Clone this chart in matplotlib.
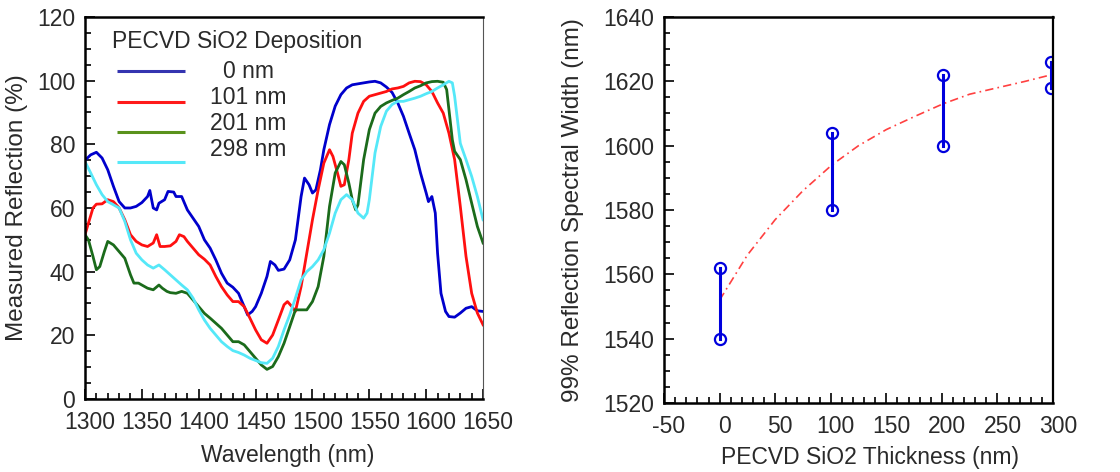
import matplotlib
matplotlib.use("Agg")
import matplotlib.pyplot as plt
import matplotlib.transforms as mtransforms
from matplotlib.ticker import MultipleLocator

plt.rcParams['font.family'] = ['Liberation Sans', 'DejaVu Sans']

# ---------------- data: left panel (measured reflection) ----------------
wl_0 = [1300, 1305, 1310, 1315, 1320, 1325, 1330, 1335, 1340, 1345, 1350, 1355, 1357, 1360, 1363,
        1365, 1370, 1373, 1378, 1380, 1385, 1390, 1395, 1400, 1405, 1410, 1415, 1420, 1425, 1430,
        1435, 1440, 1443, 1447, 1450, 1455, 1460, 1463, 1467, 1470, 1475, 1480, 1485, 1490, 1493,
        1497, 1500, 1503, 1507, 1510, 1515, 1520, 1525, 1530, 1535, 1540, 1545, 1550, 1555, 1560,
        1565, 1570, 1575, 1580, 1585, 1590, 1595, 1600, 1602, 1605, 1608, 1610, 1613, 1617, 1620,
        1625, 1630, 1635, 1640, 1645, 1650]
r_0 = [75, 76.7, 77.5, 75.7, 72, 66.8, 62, 60, 60, 60.5, 61.7, 63.6, 65.5, 60, 59.4,
       61.5, 62.6, 65.2, 65, 63.6, 63.6, 59.4, 56.8, 54.2, 50, 47.4, 43.7, 39.5, 36.4, 35.1,
       33.2, 29, 26.4, 27.5, 29, 33.2, 38.5, 43.2, 42.1, 40.4, 40.8, 43.7, 50, 63.6, 69.4,
       67.3, 64.7, 65.7, 72, 78.3, 86.2, 92, 95.6, 97.7, 98.7, 99, 99.3, 99.6, 99.8, 99.3,
       98, 96.3, 93, 88.8, 83.5, 78.3, 71, 64.7, 62, 63.6, 58.4, 45.8, 33.2, 27.5, 25.9,
       25.7, 27, 28.5, 29, 27.7, 27.5]

wl_101 = [1300, 1303, 1307, 1310, 1315, 1320, 1325, 1330, 1335, 1340, 1345, 1350, 1355, 1360, 1363,
          1366, 1370, 1375, 1380, 1383, 1387, 1390, 1395, 1400, 1405, 1410, 1415, 1420, 1425, 1430,
          1435, 1440, 1445, 1450, 1455, 1460, 1465, 1470, 1475, 1478, 1482, 1485, 1490, 1495, 1500,
          1505, 1510, 1515, 1518, 1522, 1525, 1528, 1532, 1535, 1540, 1545, 1550, 1555, 1560, 1565,
          1570, 1575, 1580, 1585, 1590, 1595, 1600, 1605, 1610, 1615, 1620, 1625, 1630, 1635, 1640,
          1645, 1650]
r_101 = [51.6, 55.2, 60, 61.2, 61.3, 62.6, 62, 60, 56.3, 51.6, 49.5, 48.4, 47.9, 49, 51.6,
         47.9, 47.9, 48.1, 49.5, 51.6, 51, 49.5, 47.4, 45.3, 43.9, 42.1, 38.5, 35.3, 32.7, 30.6,
         30.6, 29, 25.4, 21.7, 18.6, 17.5, 20.1, 24.8, 29.6, 30.6, 29, 27.5, 35.3, 45.8, 56.3,
         65.7, 74.1, 78.3, 76.2, 71, 66.8, 67.3, 75.2, 83.5, 89.8, 93.5, 95.1, 95.6, 96.1, 96.6,
         97.4, 97.7, 98.2, 99.3, 99.8, 99.7, 98.7, 96.6, 93, 89.8, 83.5, 75.2, 60.5, 44.8, 33.2,
         27, 23.3]

wl_201 = [1300, 1303, 1307, 1310, 1313, 1317, 1320, 1325, 1330, 1335, 1340, 1343, 1347, 1350, 1355,
          1360, 1365, 1368, 1372, 1375, 1380, 1385, 1390, 1395, 1400, 1405, 1410, 1415, 1420, 1425,
          1430, 1435, 1440, 1445, 1450, 1455, 1460, 1465, 1470, 1475, 1480, 1485, 1490, 1495, 1500,
          1505, 1510, 1515, 1520, 1525, 1528, 1532, 1535, 1538, 1540, 1545, 1550, 1555, 1560, 1565,
          1570, 1575, 1580, 1585, 1590, 1595, 1600, 1605, 1610, 1615, 1618, 1620, 1623, 1625, 1630,
          1635, 1640, 1645, 1650]
r_201 = [51.6, 50, 44.8, 40.6, 41.6, 46.3, 49.5, 48.4, 46.3, 44.2, 39, 36.4, 36.4, 35.8, 34.8,
         34.3, 35.8, 34.8, 33.8, 33.4, 33.2, 33.8, 33.2, 31.1, 29, 26.9, 25.4, 23.8, 22.2, 20.1,
         18, 18, 17, 14.9, 12.8, 10.7, 9.3, 10.2, 13.3, 17.5, 22.7, 28, 28, 28, 30.6,
         35.3, 44.8, 60.5, 71, 74.6, 73.6, 67.8, 62.6, 59.4, 61, 75.2, 84.6, 89.8, 91.9, 93,
         93.8, 94.5, 95.6, 96.6, 97.7, 98.4, 99.3, 99.7, 99.8, 99.5, 97.2, 90.9, 81.4, 77.8, 75.2,
         68.9, 61.5, 54.2, 49]

wl_298 = [1300, 1305, 1310, 1315, 1320, 1325, 1330, 1335, 1340, 1345, 1350, 1355, 1360, 1365, 1370,
          1375, 1380, 1385, 1390, 1395, 1400, 1405, 1410, 1415, 1420, 1425, 1430, 1435, 1440, 1445,
          1450, 1455, 1460, 1465, 1470, 1475, 1480, 1485, 1490, 1495, 1500, 1505, 1510, 1515, 1520,
          1525, 1530, 1535, 1540, 1545, 1548, 1550, 1555, 1560, 1565, 1570, 1575, 1580, 1585, 1590,
          1595, 1600, 1605, 1610, 1615, 1620, 1623, 1625, 1630, 1635, 1640, 1645, 1650]
r_298 = [74.6, 71, 67.3, 64.2, 62, 61, 60, 55.8, 50, 45.8, 43.7, 42.1, 41.1, 42.1, 40.6,
         39, 37.4, 35.8, 34.3, 31.7, 28, 24.8, 22.2, 20.1, 18, 16.5, 15.2, 14.6, 13.8, 12.8,
         12.1, 11.4, 11.2, 12.8, 16.5, 21.7, 26.4, 31.7, 37.4, 40, 41.6, 43.7, 46.9, 52.1, 58.4,
         62.6, 64.2, 62.6, 58.4, 56.8, 58.4, 62.6, 77.3, 85.6, 90.4, 92.5, 93.5, 93.5, 94, 94.5,
         95.1, 95.9, 96.6, 97.7, 98.7, 99.8, 99.3, 95.1, 80.3, 75.2, 69.9, 63.6, 56.3]

legend_title = "PECVD SiO2 Deposition"
legend_labels = ["0 nm", "101 nm", "201 nm", "298 nm"]

# ---------------- data: right panel (99% reflection spectral width) ----------------
thickness = [0, 101, 201, 298]
width_low = [1540, 1580, 1600, 1618]
width_high = [1562, 1604, 1622, 1626]
fit_x = [0, 25, 50, 75, 101, 125, 150, 175, 201, 225, 250, 275, 298]
fit_y = [1552, 1566, 1577, 1586, 1594, 1600, 1605, 1609, 1613, 1616, 1618, 1620, 1622]

# ---------------- styling ----------------
curve_colors = ['#0000CC', '#FF1010', '#1B6B1B', '#55E8F8']
legend_colors = ['#3434B0', '#FF1A1A', '#5A921C', '#55E8F8']
txt = '#2a2a2a'
fs = 16.5
fs_y = 17.5

fig = plt.figure(figsize=(11.2, 4.72), dpi=100)
shift = mtransforms.ScaledTranslation(5 / 100, 0, fig.dpi_scale_trans)

def style_axes(ax, right_thin=False):
    for s in ['left', 'bottom', 'top']:
        ax.spines[s].set_linewidth(1.8)
        ax.spines[s].set_color('black')
    if right_thin:
        ax.spines['right'].set_linewidth(0.8)
        ax.spines['right'].set_color('#555555')
    else:
        ax.spines['right'].set_linewidth(1.6)
        ax.spines['right'].set_color('black')
    ax.tick_params(which='both', direction='in', top=False, right=False,
                   colors='black', labelcolor=txt, labelsize=fs, width=1.2)
    ax.tick_params(which='major', length=7)
    ax.tick_params(axis='x', which='major', pad=9)
    ax.tick_params(axis='y', which='major', pad=7)
    ax.tick_params(which='minor', length=4)

def shift_xlabels(ax):
    for lab in ax.get_xticklabels():
        lab.set_transform(lab.get_transform() + shift)

# Left axes
ax1 = fig.add_axes([0.0759, 0.1547, 0.3554, 0.8093])
series = [(wl_0, r_0), (wl_101, r_101), (wl_201, r_201), (wl_298, r_298)]
for (x, y), c in zip(series, curve_colors):
    ax1.plot(x, y, color=c, lw=2.0, solid_joinstyle='round')
ax1.set_xlim(1300, 1650)
ax1.set_ylim(0, 120)
ax1.xaxis.set_major_locator(MultipleLocator(50))
ax1.xaxis.set_minor_locator(MultipleLocator(10))
ax1.yaxis.set_major_locator(MultipleLocator(20))
ax1.yaxis.set_minor_locator(MultipleLocator(5))
style_axes(ax1, right_thin=True)
shift_xlabels(ax1)
ax1.set_xlabel("Wavelength (nm)", fontsize=fs, color=txt)
ax1.set_ylabel("Measured Reflection (%)", fontsize=fs_y, color=txt)
ax1.xaxis.set_label_coords(0.51, -0.118)
ax1.yaxis.set_label_coords(-0.143, 0.5)

# manual legend
ax1.text(0.068, 0.935, legend_title, transform=ax1.transAxes, fontsize=fs,
         color=txt, ha='left', va='center')
line_y = [0.859, 0.777, 0.699, 0.620]
lab_y = [0.856, 0.788, 0.720, 0.654]
for ly, tyy, lab, c in zip(line_y, lab_y, legend_labels, legend_colors):
    ax1.plot([0.080, 0.251], [ly, ly], transform=ax1.transAxes, color=c, lw=2.2,
             solid_capstyle='butt')
    ax1.text(0.41, tyy, lab, transform=ax1.transAxes, fontsize=fs, color=txt,
             ha='center', va='center')

# Right axes
ax2 = fig.add_axes([0.5929, 0.1462, 0.3473, 0.8178])
ax2.plot(fit_x, fit_y, color='#FF4040', lw=1.2, linestyle=(0, (5, 2.5, 1, 2.5)))
for t, lo, hi in zip(thickness, width_low, width_high):
    ax2.plot([t, t], [lo, hi], color='#0000DD', lw=2.2, marker='o', markersize=8,
             markerfacecolor='none', markeredgecolor='#0000DD', markeredgewidth=1.6)
ax2.set_xlim(-50, 300)
ax2.set_ylim(1520, 1640)
ax2.xaxis.set_major_locator(MultipleLocator(50))
ax2.xaxis.set_minor_locator(MultipleLocator(10))
ax2.yaxis.set_major_locator(MultipleLocator(20))
ax2.yaxis.set_minor_locator(MultipleLocator(5))
style_axes(ax2)
ax2.xaxis.set_major_formatter(matplotlib.ticker.FuncFormatter(lambda v, p: f"{v:g}"))
shift_xlabels(ax2)
ax2.set_xlabel("PECVD SiO2 Thickness (nm)", fontsize=fs, color=txt)
ax2.set_ylabel("99% Reflection Spectral Width (nm)", fontsize=fs_y, color=txt)
ax2.xaxis.set_label_coords(0.53, -0.112)
ax2.yaxis.set_label_coords(-0.206, 0.5)

fig.savefig("out.png", dpi=100)
